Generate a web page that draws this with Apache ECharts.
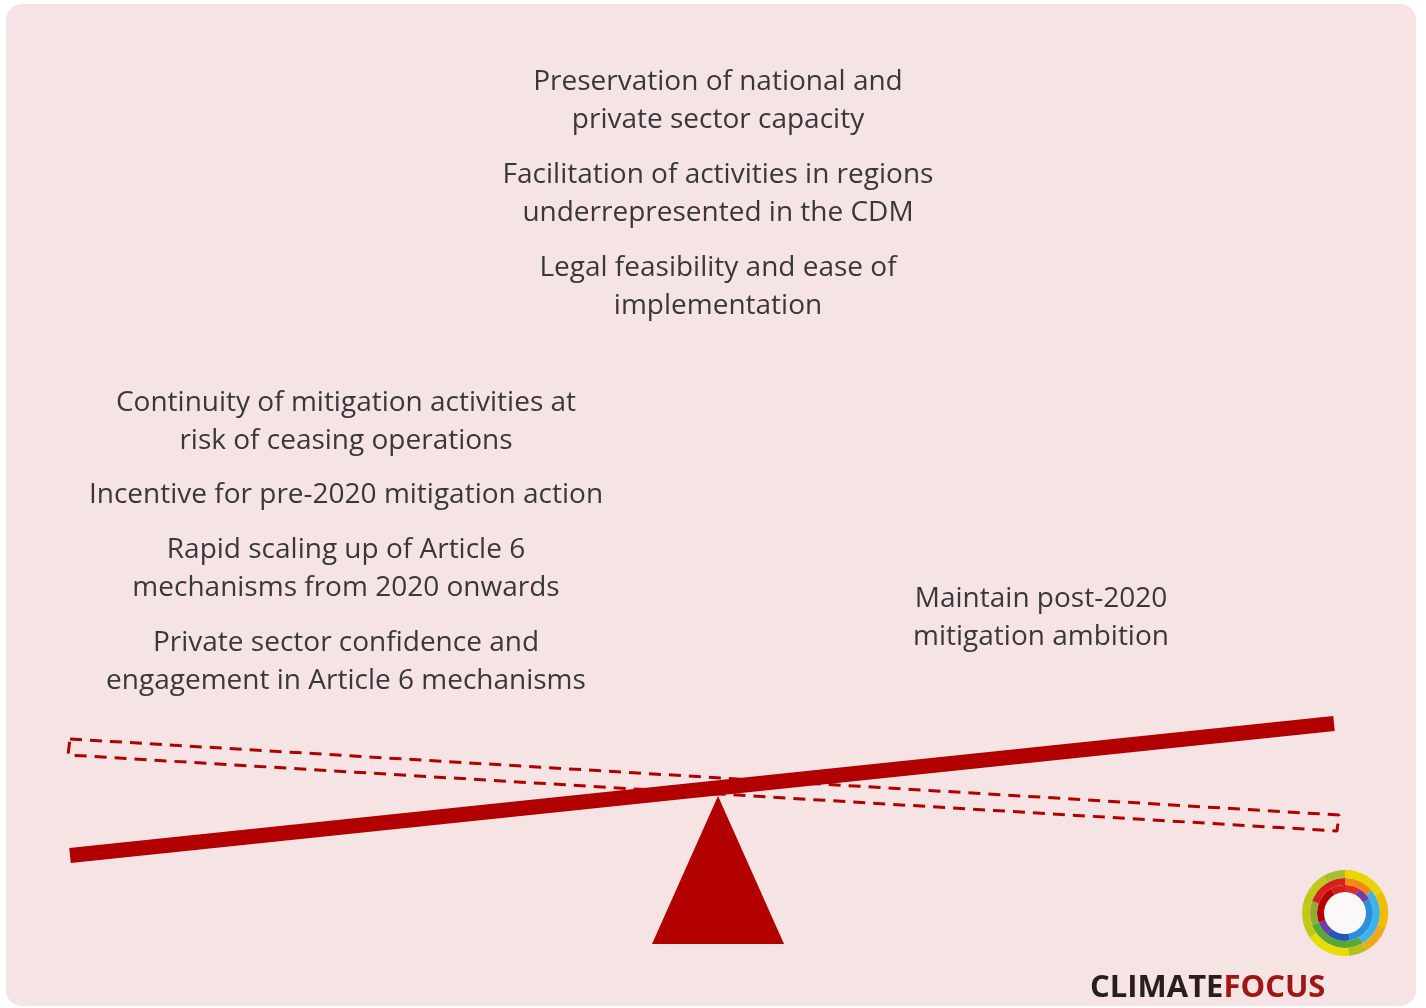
<!DOCTYPE html>
<html>
<head>
<meta charset="utf-8">
<title>Article 6 transition balance</title>
<script src="https://cdn.jsdelivr.net/npm/echarts@6/dist/echarts.min.js"></script>
<style>
  html, body { margin: 0; padding: 0; background: #ffffff; }
  #main { width: 1426px; height: 1008px; }
</style>
</head>
<body>
<div id="main"></div>
<script>
// scale beam (tilted towards the left side) and the ghost outline of the balanced position
const beamX = [70, 1334]
const beamY = [855.5, 723.5]
const ghostX = [70, 1339, 1337, 68, 70]
const ghostY = [739, 815, 831, 755, 739]
const fulcrumX = [652, 718, 784]
const fulcrumY = [944, 796, 944]

// arguments on each side of the scale
const topItems = [
  'Preservation of national and\nprivate sector capacity',
  'Facilitation of activities in regions\nunderrepresented in the CDM',
  'Legal feasibility and ease of\nimplementation'
]
const leftItems = [
  'Continuity of mitigation activities at\nrisk of ceasing operations',
  'Incentive for pre-2020 mitigation action',
  'Rapid scaling up of Article 6\nmechanisms from 2020 onwards',
  'Private sector confidence and\nengagement in Article 6 mechanisms'
]
const rightItems = [
  'Maintain post-2020\nmitigation ambition'
]

// logo rings, slice sizes in degrees going clockwise from the top
const innerRing = [30, 30, 110, 50, 30, 80, 30]
const innerColors = ['#e02a2a', '#7b3aa0', '#2a8ee0', '#2458b4', '#6a3ca8', '#b80000', '#d81c1c']
const middleRing = [50, 100, 100, 40, 70]
const middleColors = ['#f08a10', '#3cb4e6', '#58a838', '#8ab030', '#d42020']
const outerRing = [60, 50, 40, 25, 60, 95, 30]
const outerColors = ['#ecd400', '#f2bc00', '#eea818', '#b8c020', '#e8dc00', '#c0c818', '#a8c030']

const red = '#b20000'
const textColor = '#383838'
const textFont = '28px "Open Sans", sans-serif'

const pairs = (xs, ys) => xs.map((x, i) => [x, ys[i]])

const textBlock = (items, x, centers) => items.map((t, i) => ({
  type: 'text',
  x: x,
  y: centers[i],
  z: 10,
  silent: true,
  style: {
    text: t,
    font: textFont,
    fill: textColor,
    align: 'center',
    verticalAlign: 'middle',
    lineHeight: 38
  }
}))

const ring = (values, colors, radius) => ({
  type: 'pie',
  silent: true,
  center: [1345, 913],
  radius: radius,
  startAngle: 90,
  clockwise: true,
  label: { show: false },
  labelLine: { show: false },
  emphasis: { disabled: true },
  itemStyle: { borderWidth: 0 },
  data: values.map((v, i) => ({ value: v, itemStyle: { color: colors[i] } }))
})

const chart = echarts.init(document.getElementById('main'), null, { renderer: 'canvas' })

const option = {
  animation: false,
  backgroundColor: '#ffffff',
  grid: { left: 0, right: 0, top: 0, bottom: 0 },
  xAxis: { type: 'value', min: 0, max: 1426, show: false },
  yAxis: { type: 'value', min: 0, max: 1008, inverse: true, show: false },
  graphic: [
    {
      type: 'rect',
      z: -10,
      silent: true,
      shape: { x: 6, y: 4, width: 1410, height: 1002, r: 16 },
      style: { fill: '#f6e4e5' }
    },
    ...textBlock(topItems, 718, [101.5, 194.5, 287]),
    ...textBlock(leftItems, 346, [422, 495.5, 569.5, 662.5]),
    ...textBlock(rightItems, 1041, [618.5]),
    {
      type: 'text',
      x: 1090,
      y: 988,
      z: 10,
      silent: true,
      style: {
        text: '{a|CLIMATE}{b|FOCUS}',
        verticalAlign: 'middle',
        rich: {
          a: { font: 'bold 31px "Open Sans", sans-serif', fill: '#2b1d1d' },
          b: { font: 'bold 31px "Open Sans", sans-serif', fill: '#a31515' }
        }
      }
    }
  ],
  series: [
    {
      type: 'line',
      silent: true,
      symbol: 'none',
      z: 2,
      lineStyle: { color: red, width: 3, type: [12, 8] },
      data: pairs(ghostX, ghostY)
    },
    {
      type: 'custom',
      silent: true,
      z: 3,
      data: [0],
      renderItem: (params, api) => ({
        type: 'polygon',
        shape: { points: fulcrumX.map((x, i) => api.coord([x, fulcrumY[i]])) },
        style: { fill: red }
      })
    },
    {
      type: 'line',
      silent: true,
      symbol: 'none',
      z: 4,
      lineStyle: { color: red, width: 15, cap: 'butt' },
      data: pairs(beamX, beamY)
    },
    ring([1], ['#fbf8f8'], [0, 21]),
    ring(innerRing, innerColors, [21, 28]),
    ring(middleRing, middleColors, [28, 35]),
    ring(outerRing, outerColors, [35, 43])
  ]
}

chart.setOption(option)
window.addEventListener('resize', () => chart.resize())
</script>
</body>
</html>
